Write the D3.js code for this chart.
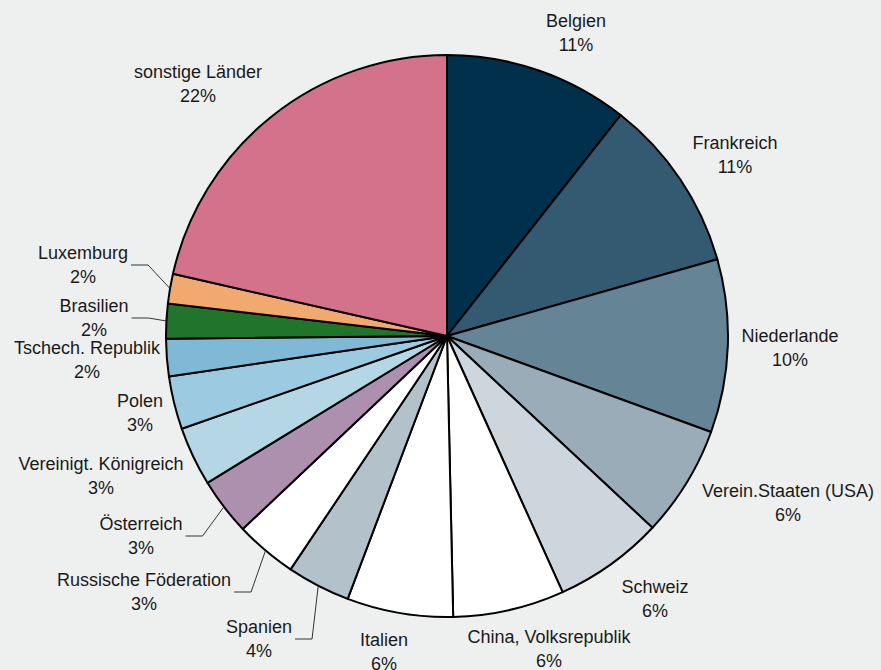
<!DOCTYPE html>
<html><head><meta charset="utf-8">
<script src="https://cdn.jsdelivr.net/npm/d3@7"></script>
<style>body{margin:0;background:#eef0ef;}svg{display:block;font-family:"Liberation Sans",Arial,sans-serif;}</style>
</head><body><svg id="c" width="881" height="670"></svg>
<script>
const categories = ["Belgien","Frankreich","Niederlande","Verein.Staaten (USA)","Schweiz","China, Volksrepublik","Italien","Spanien","Russische Föderation","Österreich","Vereinigt. Königreich","Polen","Tschech. Republik","Brasilien","Luxemburg","sonstige Länder"];
const values = [10.6,10.0,9.95,6.4,6.3,6.4,6.1,3.65,3.55,3.3,3.4,3.05,2.15,2.0,1.7,21.45];
const percentLabels = ["11%","11%","10%","6%","6%","6%","6%","4%","3%","3%","3%","3%","2%","2%","2%","22%"];
const colors = ["#01304c","#335a70","#658495","#9aacb8","#cdd6dc","#ffffff","#ffffff","#b3c1cb","#ffffff","#ad8fae","#b5d6e5","#9ccae0","#80b9d5","#20752a","#f2a96f","#d4728b"];
// label layout: [center x, first baseline y, leader line?]
const labelLayout = [[576,27,0],[735,149,0],[790,342,0],[788,497,0],[655,593,0],[549,643,0],[384,646,0],[259,633,1],[144,586,1],[141,530,1],[101,470,0],[140,407,0],[87,354,0],[94,312,1],[83,259,1],[198,78,0]];

const svg = d3.select("#c");
const cx = 447, cy = 336, R = 281;
const g = svg.append("g").attr("transform",`translate(${cx},${cy})`);
const pie = d3.pie().sort(null).value(d=>d.v);
const data = categories.map((c,i)=>({c, v: values[i], i}));
const arcs = pie(data);
const arc = d3.arc().innerRadius(0).outerRadius(R);
g.selectAll("path").data(arcs).join("path")
  .attr("d", arc).attr("fill", d=>colors[d.data.i])
  .attr("stroke","#000").attr("stroke-width",2).attr("stroke-linejoin","round");

const lg = svg.append("g").attr("font-size",18).attr("fill","#1a1a1a").attr("text-anchor","middle");
arcs.forEach(a=>{
  const i = a.data.i;
  const [x,y,lead] = labelLayout[i];
  const t = lg.append("text").attr("x",x).attr("y",y);
  t.append("tspan").attr("x",x).text(categories[i]);
  t.append("tspan").attr("x",x).attr("dy",24).text(percentLabels[i]);
  if(lead){
    const w = t.select("tspan").node().getComputedTextLength();
    const mid = (a.startAngle + a.endAngle)/2;
    const ex = cx + R*Math.sin(mid), ey = cy - R*Math.cos(mid);
    const sx = x + w/2 + 3, sy = y + 6;
    svg.append("path").attr("d",`M${sx},${sy}H${sx+17}L${ex},${ey}`)
      .attr("fill","none").attr("stroke","#333").attr("stroke-width",1);
  }
});
</script></body></html>
